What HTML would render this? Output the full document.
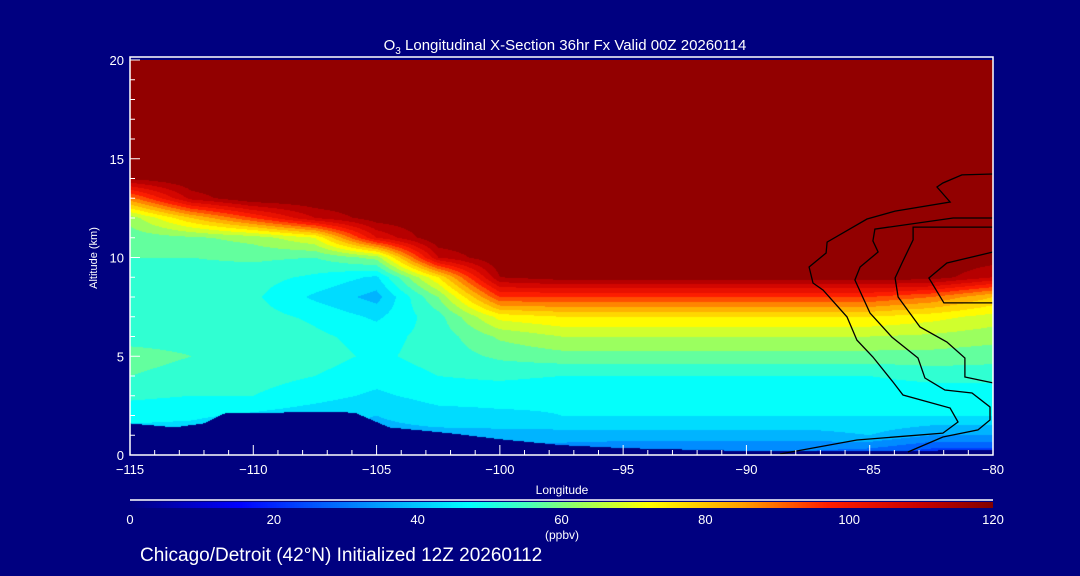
<!DOCTYPE html>
<html><head><meta charset="utf-8"><style>
html,body{margin:0;padding:0;background:#000080;}
#wrap{position:relative;width:1080px;height:576px;background:#000080;overflow:hidden;font-family:"Liberation Sans",sans-serif;}
canvas{position:absolute;left:130px;top:60px;}
svg{position:absolute;left:0;top:0;}
text{fill:#fff;font-family:"Liberation Sans",sans-serif;}
</style></head><body>
<div id="wrap">
<canvas id="field" width="863" height="395"></canvas>
<canvas id="cbar" width="863" height="6" style="left:130px;top:502px"></canvas>
<svg id="ov" width="1080" height="576">
<text x="565" y="50" font-size="15" text-anchor="middle">O<tspan font-size="10" dy="4">3</tspan><tspan dy="-4"> Longitudinal X-Section 36hr  Fx Valid 00Z 20260114</tspan></text>
<text x="97" y="258" font-size="11" text-anchor="middle" transform="rotate(-90 97 258)">Altitude (km)</text>
<text x="562" y="494" font-size="12" text-anchor="middle">Longitude</text>
<text x="562" y="539" font-size="12" text-anchor="middle">(ppbv)</text>
<text x="140" y="561" font-size="19">Chicago/Detroit (42°N) Initialized 12Z 20260112</text>
</svg>
</div>
<script>
const lons = [-115,-112.5,-110,-107.5,-105,-102.5,-100,-97.5,-95,-92.5,-90,-87.5,-85,-82.5,-80];
const alts = [0,1,2,3,4,5,6,7,8,9,10,11,12,13,14,15,16];
const o3Rows = [
[30,30,30,30,30,30,30,30,28,28,28,28,25,20,20],
[42,42,38,38,38,38,38,38,38,38,38,38,40,35,35],
[47,46,44,42,40,43,44,45,45,45,45,45,45,45,45],
[51,50,50,47,44,47,47,46,46,46,46,46,46,46,46],
[55,53,52,50,47,50,51,50,50,50,50,50,50,52,52],
[57,55,55,52,49,52,56,58,58,58,58,58,58,58,57],
[53,53,55,51,48,52,61,65,65,65,65,65,65,64,62],
[52,52,52,49,44,53,72,75,75,75,75,75,75,72,68],
[52,52,51,44,38,60,95,95,95,95,95,95,95,90,80],
[53,53,52,49,44,75,115,118,118,118,118,118,118,118,110],
[55,55,56,55,62,110,120,120,120,120,120,120,120,120,118],
[57,59,62,70,105,120,120,120,120,120,120,120,120,120,120],
[62,80,95,110,118,120,120,120,120,120,120,120,120,120,120],
[88,112,120,120,120,120,120,120,120,120,120,120,120,120,120],
[116,120,120,120,120,120,120,120,120,120,120,120,120,120,120],
[120,120,120,120,120,120,120,120,120,120,120,120,120,120,120],
[120,120,120,120,120,120,120,120,120,120,120,120,120,120,120]
];
const terrainLon = [-115,-113.2,-112,-111.2,-106.5,-105.8,-104.5,-102,-100,-97.5,-95,-90,-85,-80];
const terrainAlt = [1.6,1.4,1.6,2.1,2.2,2.1,1.4,1.1,0.8,0.5,0.35,0.2,0.2,0.25];
const contourA = [[-80,14.23],[-81.26,14.18],[-82.03,13.77],[-82.27,13.57],[-81.74,12.81],[-83.97,12.35],[-85.11,11.95],[-86.73,10.78],[-86.77,10.23],[-87.46,9.52],[-87.3,8.71],[-86.89,8.35],[-85.92,6.99],[-85.52,5.82],[-84.87,4.96],[-84.06,3.7],[-83.65,3.04],[-81.74,2.38],[-81.42,1.67],[-82.03,1.11],[-85.52,0.76],[-88.64,0.05]];
const contourB = [[-80,12],[-81.62,12],[-84.79,11.44],[-84.87,10.84],[-84.66,10.28],[-85.39,9.52],[-85.6,8.86],[-84.99,7.19],[-84.1,5.97],[-83.04,4.91],[-82.76,3.9],[-81.95,3.29],[-80.85,3.14],[-80.12,2.43],[-80.12,1.77],[-80.61,1.27],[-82.03,0.91],[-83.45,0.15]];
const contourC = [[-80,11.54],[-83.24,11.54],[-83.24,10.89],[-83.69,9.72],[-83.97,8.96],[-83.85,8],[-82.96,6.48],[-81.87,5.72],[-81.14,4.91],[-81.14,3.95],[-80,3.65]];
const contourD = [[-80,10.28],[-81.87,9.72],[-82.6,8.96],[-81.99,7.7],[-80,7.7]];
const xTicks = [-115,-110,-105,-100,-95,-90,-85,-80];
const xTickLabels = ["\u2212115","\u2212110","\u2212105","\u2212100","\u221295","\u221290","\u221285","\u221280"];
const yTicks = [0,5,10,15,20];
const cbTicks = [0,20,40,60,80,100,120];

const X0=130,X1=993,Y0=455,Y1=60;
const xs = l => X0 + (l+115)/35*(X1-X0);
const ys = a => Y0 - a/20*(Y0-Y1);
const cs = v => X0 + v/120*(X1-X0);

const stops=[[0,[0,0,128]],[15,[0,0,255]],[40,[0,200,255]],[47,[0,255,255]],[55,[70,255,190]],[62,[150,255,100]],[72,[255,255,0]],[85,[255,160,0]],[97,[255,30,0]],[110,[200,0,0]],[120,[128,0,0]]];
function cmap(v){v=Math.max(0,Math.min(120,v));for(let i=1;i<stops.length;i++){if(v<=stops[i][0]){const a=stops[i-1],b=stops[i],t=(v-a[0])/(b[0]-a[0]);return [0,1,2].map(k=>Math.round(a[1][k]+t*(b[1][k]-a[1][k])));}}return stops[stops.length-1][1];}
function interp1(xa,ya,x){if(x<=xa[0])return ya[0];for(let i=1;i<xa.length;i++){if(x<=xa[i]){const t=(x-xa[i-1])/(xa[i]-xa[i-1]);return ya[i-1]+t*(ya[i]-ya[i-1]);}}return ya[ya.length-1];}
function field(lon,alt){
  if(alt>=alts[alts.length-1])return o3Rows[o3Rows.length-1][0];
  let j=Math.floor(alt);if(j<0)j=0;const ty=alt-alts[j];
  let fi=(lon-lons[0])/(lons[1]-lons[0]);let i=Math.min(Math.floor(fi),lons.length-2);if(i<0)i=0;const tx=fi-i;
  const a=o3Rows[j][i],b=o3Rows[j][i+1],c=o3Rows[j+1][i],d=o3Rows[j+1][i+1];
  return (a*(1-tx)+b*tx)*(1-ty)+(c*(1-tx)+d*tx)*ty;
}
(function(){
  const cv=document.getElementById('field'),ctx=cv.getContext('2d');
  const W=cv.width,H=cv.height,img=ctx.createImageData(W,H);
  for(let py=0;py<H;py++){const alt=(Y0-(Y1+py+0.5))/(Y0-Y1)*20;
    for(let px=0;px<W;px++){const lon=-115+(px+0.5)/(X1-X0)*35;
      let col;
      if(alt<interp1(terrainLon,terrainAlt,lon))col=[0,0,128];
      else{const v=field(lon,alt);const q=Math.min(117.5,Math.floor(v/5)*5+2.5);col=cmap(q);}
      const k=(py*W+px)*4;img.data[k]=col[0];img.data[k+1]=col[1];img.data[k+2]=col[2];img.data[k+3]=255;}}
  ctx.putImageData(img,0,0);
  const cb=document.getElementById('cbar'),c2=cb.getContext('2d');
  for(let px=0;px<cb.width;px++){const c=cmap(px/cb.width*120);c2.fillStyle='rgb('+c.join(',')+')';c2.fillRect(px,0,1,6);}
})();
const NS='http://www.w3.org/2000/svg',ov=document.getElementById('ov');
function mk(tag,attrs){const e=document.createElementNS(NS,tag);for(const k in attrs)e.setAttribute(k,attrs[k]);ov.appendChild(e);return e;}
[contourA,contourB,contourC,contourD].forEach((c,idx)=>{
  const p=mk('polyline',{points:c.map(q=>xs(q[0]).toFixed(1)+','+ys(q[1]).toFixed(1)).join(' '),fill:'none',stroke:'#000','stroke-width':1.3});
  
  
});
const box=mk('rect',{x:X0,y:57,width:X1-X0,height:Y0-57,fill:'none',stroke:'#fff','stroke-width':1.5});


for(let l=-115;l<=-80;l++){const major=(l%5===0);
  const t=mk('line',{x1:xs(l),x2:xs(l),y1:Y0,y2:Y0-(major?10:5),stroke:'#fff','stroke-width':1});
  
  }
xTicks.forEach((l,i)=>{const t=mk('text',{x:xs(l),y:Y0+19,'font-size':13,'text-anchor':'middle'});t.textContent=xTickLabels[i];
  
  });
for(let a=0;a<=20;a++){const major=(a%5===0);
  const t=mk('line',{x1:X0,x2:X0+(major?10:5),y1:ys(a),y2:ys(a),stroke:'#fff','stroke-width':1});
  
  }
yTicks.forEach(a=>{const t=mk('text',{x:X0-6,y:ys(a)+5,'font-size':13,'text-anchor':'end'});t.textContent=String(a);
  
  });
const cl=mk('line',{x1:X0,x2:X1,y1:500,y2:500,stroke:'#fff','stroke-width':1.5});


cbTicks.forEach(v=>{const t=mk('text',{x:cs(v),y:524,'font-size':13,'text-anchor':'middle'});t.textContent=String(v);
  
  });
</script>
</body></html>
